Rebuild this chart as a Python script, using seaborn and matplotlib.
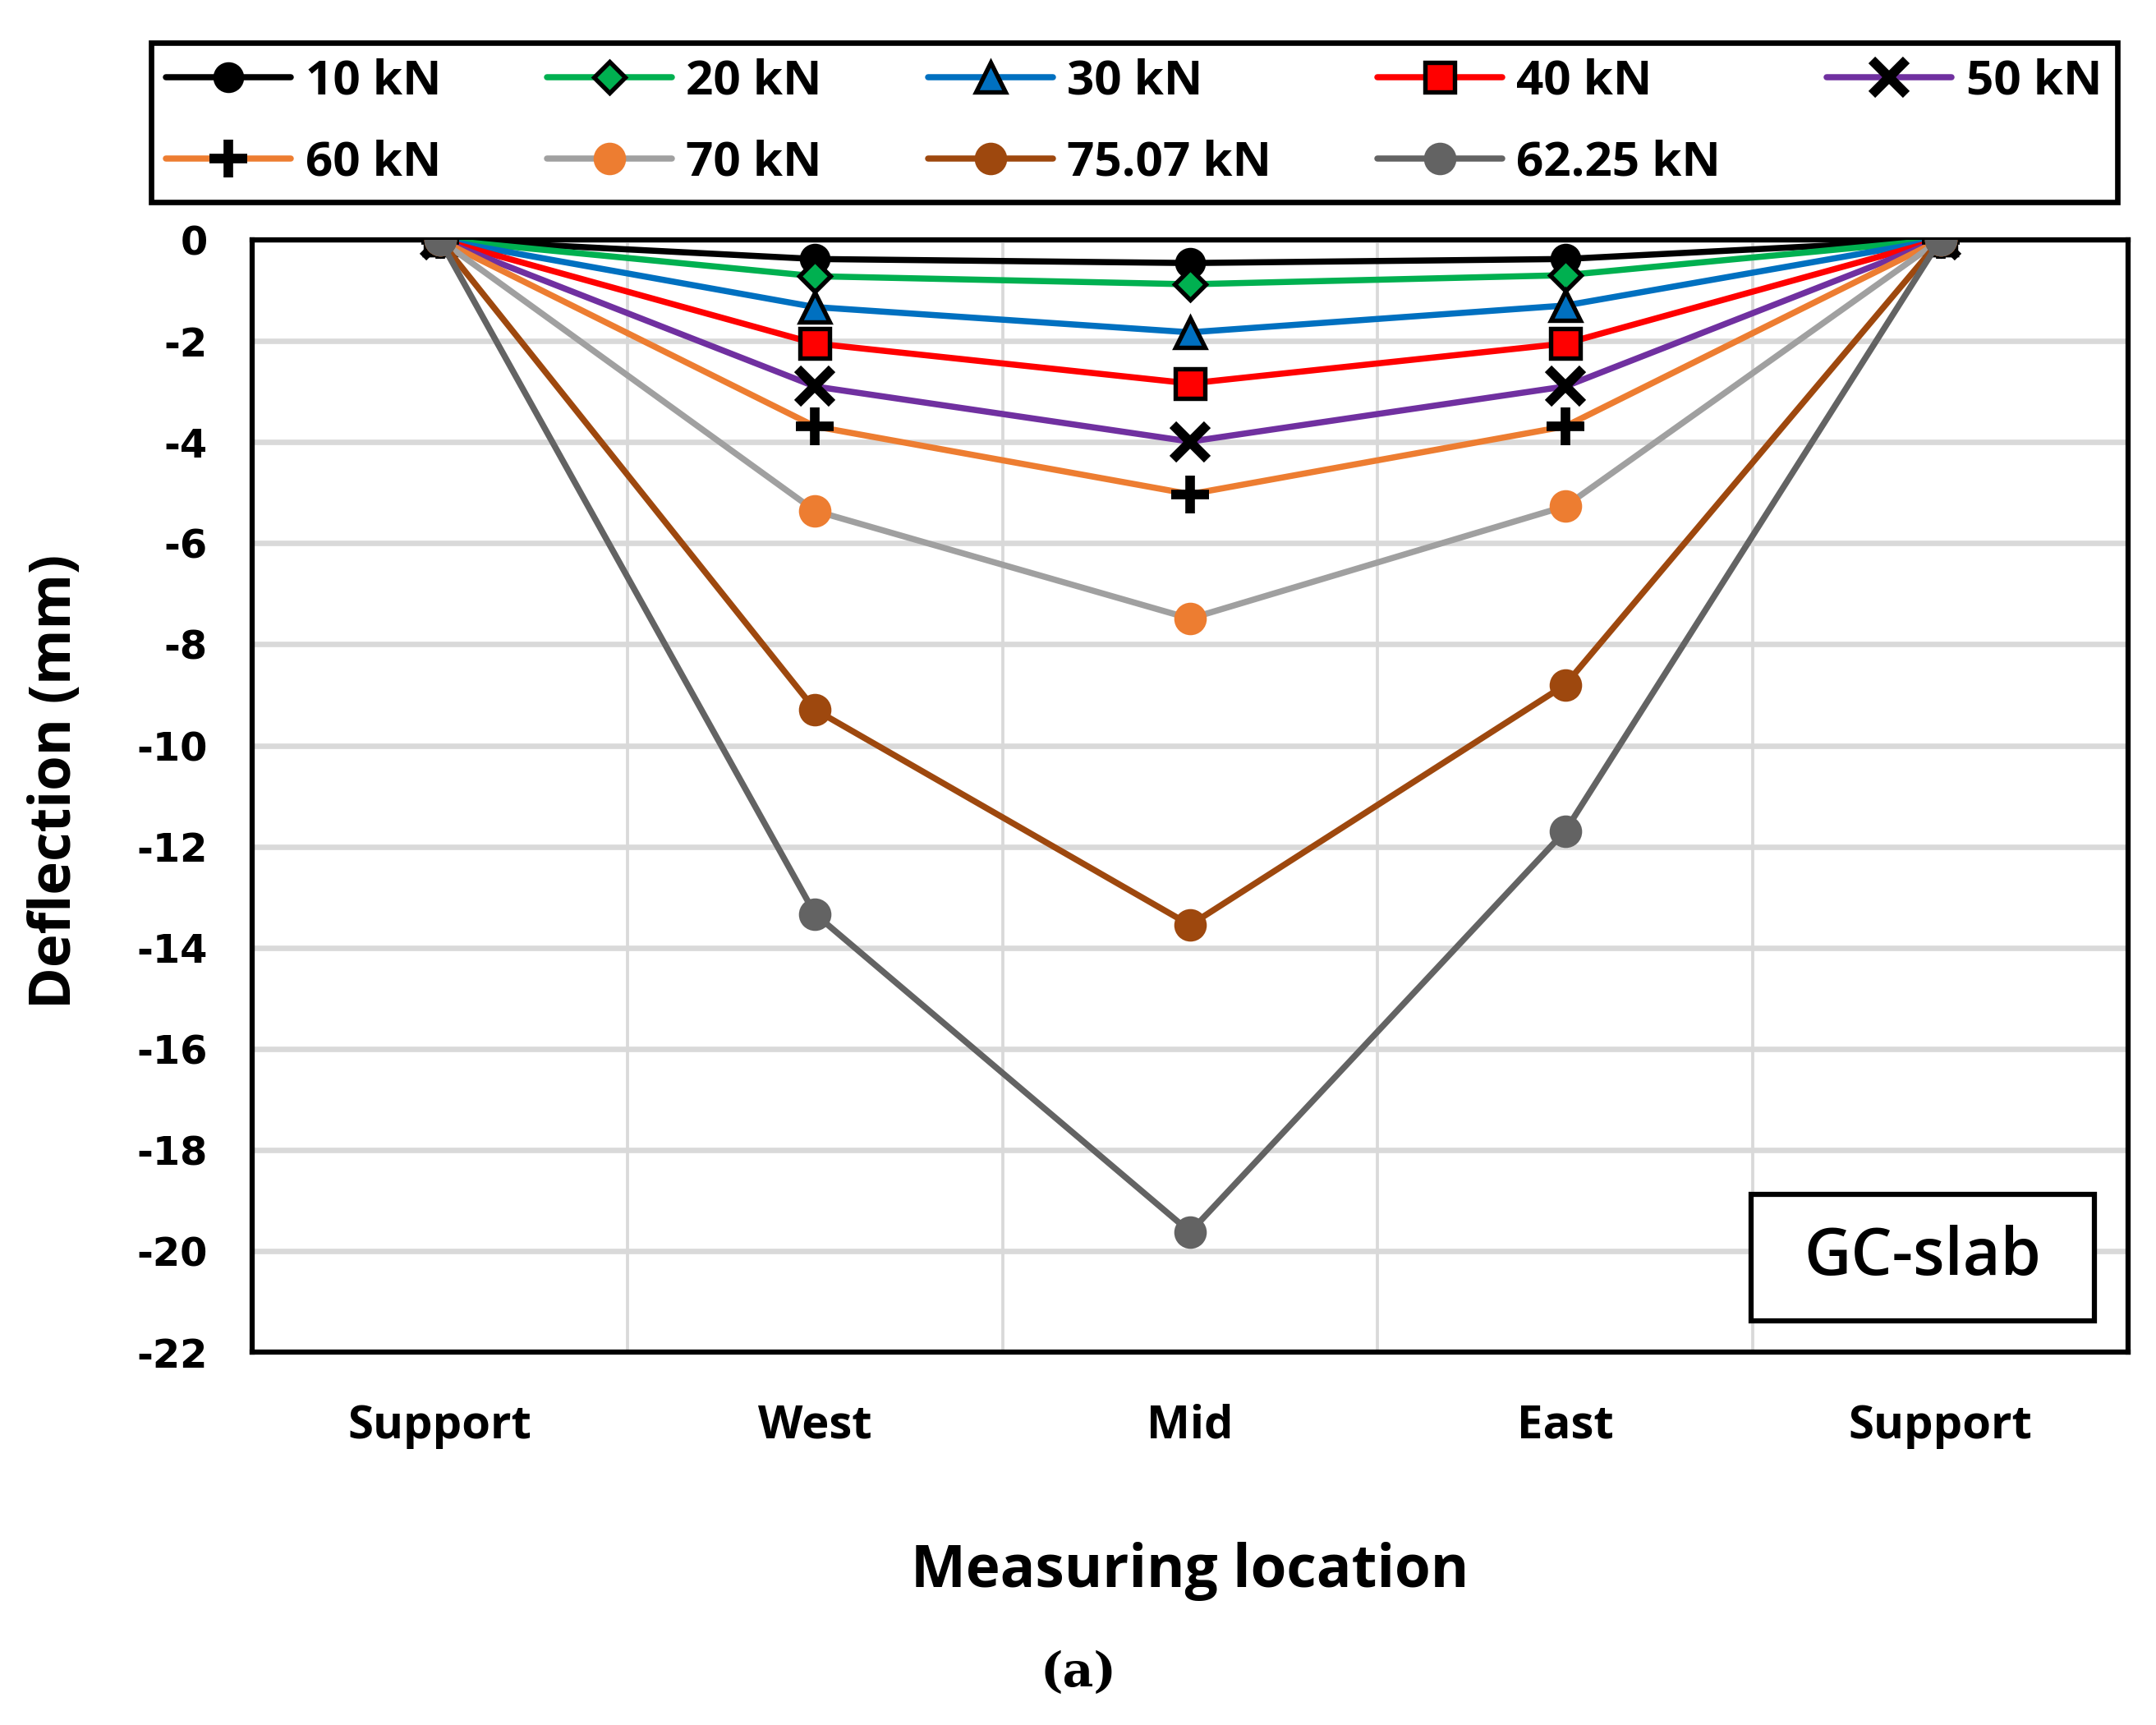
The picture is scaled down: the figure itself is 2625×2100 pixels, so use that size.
import numpy as np
import matplotlib
matplotlib.use("Agg")
import matplotlib.pyplot as plt
import matplotlib.patches as mpatches
import seaborn as sns

# ── Data (deflection in mm at each measuring location) ─────────────────────────
locations = ["Support", "West", "Mid", "East", "Support"]
load_labels = ["10 kN", "20 kN", "30 kN", "40 kN", "50 kN",
               "60 kN", "70 kN", "75.07 kN", "62.25 kN"]

defl_10  = [0, -0.38, -0.46, -0.38, 0]
defl_20  = [0, -0.72, -0.88, -0.70, 0]
defl_30  = [0, -1.33, -1.83, -1.30, 0]
defl_40  = [0, -2.05, -2.84, -2.05, 0]
defl_50  = [0, -2.90, -3.99, -2.90, 0]
defl_60  = [0, -3.69, -5.03, -3.69, 0]
defl_70  = [0, -5.36, -7.49, -5.27, 0]
defl_75  = [0, -9.29, -13.55, -8.80, 0]
defl_62  = [0, -13.33, -19.62, -11.69, 0]
series = [defl_10, defl_20, defl_30, defl_40, defl_50,
          defl_60, defl_70, defl_75, defl_62]

# ── Styles (Excel-like palette) ────────────────────────────────────────────────
line_colors = ["#000000", "#00B050", "#0070C0", "#FF0000", "#7030A0",
               "#ED7D31", "#A0A0A0", "#9E480E", "#636363"]
markers     = ["o", "D", "^", "s", "x", "+", "o", "o", "o"]
face_colors = ["#000000", "#00B050", "#0070C0", "#FF0000", "none",
               "none", "#ED7D31", "#9E480E", "#636363"]
edge_colors = ["#000000", "#000000", "#000000", "#000000", "#000000",
               "#000000", "#ED7D31", "#9E480E", "#636363"]
msizes      = [8, 6.5, 8.5, 8.5, 10, 11, 9, 9, 9]
mews        = [1.0, 1.3, 1.3, 1.3, 2.8, 2.8, 0.5, 0.5, 0.5]

sns.set_theme(style="white")
plt.rcParams["font.family"] = ["Open Sans", "DejaVu Sans"]
plt.rcParams["axes.unicode_minus"] = False
plt.rcParams["text.color"] = "black"
plt.rcParams["xtick.color"] = "black"
plt.rcParams["ytick.color"] = "black"

fig = plt.figure(figsize=(8.75, 7), dpi=300)
ax = fig.add_axes([0.117, 0.216, 0.870, 0.645])

positions = np.arange(len(locations))
for vals, lab, lc, mk, fc, ec, ms, mw in zip(series, load_labels, line_colors, markers,
                                             face_colors, edge_colors, msizes, mews):
    sns.lineplot(x=positions, y=vals, ax=ax, color=lc, lw=1.8, label=lab,
                 marker=mk, markersize=ms, markerfacecolor=fc,
                 markeredgecolor=ec, markeredgewidth=mw, zorder=3)

if ax.get_legend() is not None:
    ax.get_legend().remove()

# ── Axes ───────────────────────────────────────────────────────────────────────
ax.set_xlim(-0.5, len(locations) - 0.5)
ax.set_ylim(-22, 0)
ax.set_yticks(np.arange(-22, 1, 2))
ax.set_yticklabels([str(v) for v in np.arange(-22, 1, 2)],
                   fontfamily="DejaVu Sans", fontweight="bold", fontsize=11.5)
ax.set_xticks(positions)
ax.set_xticklabels(locations, fontweight="bold", fontsize=13.5)
ax.set_xticks(positions[:-1] + 0.5, minor=True)
ax.tick_params(axis="x", which="both", length=0, pad=15, colors="black")
ax.tick_params(axis="y", length=0, pad=13, colors="black")

ax.yaxis.grid(True, color="#D9D9D9", lw=1.6, zorder=0)
ax.xaxis.grid(True, which="minor", color="#D9D9D9", lw=0.9, zorder=0)
ax.xaxis.grid(False, which="major")
ax.set_axisbelow(True)
for spine in ax.spines.values():
    spine.set_edgecolor("black")
    spine.set_linewidth(1.5)

ax.set_xlabel("")
ax.set_ylabel("")
fig.text(0.026, 0.547, "Deflection (mm)", rotation=90, ha="center", va="center",
         fontsize=16.5, fontweight="bold")
fig.text(0.552, 0.089, "Measuring location", ha="center", va="center",
         fontsize=17, fontweight="bold")
fig.text(0.5, 0.030, "(a)", ha="center", va="center", fontsize=14,
         fontfamily="DejaVu Serif", fontweight="bold")

# GC-slab label box
ax.add_patch(mpatches.Rectangle((0.799, 0.028), 0.183, 0.114, transform=ax.transAxes,
                                fc="white", ec="black", lw=1.5, zorder=5))
ax.text(0.8905, 0.085, "GC-slab", transform=ax.transAxes, ha="center", va="center",
        fontsize=19, fontweight="semibold", zorder=6)

# ── Legend (row-major order, 5 columns) ────────────────────────────────────────
handles, labels = ax.get_legend_handles_labels()
order = [0, 5, 1, 6, 2, 7, 3, 8, 4]
leg = fig.legend([handles[i] for i in order], [labels[i] for i in order],
                 loc="lower left", bbox_to_anchor=(0.07, 0.883, 0.912, 0.096),
                 mode="expand", ncol=5, fancybox=False, frameon=True, framealpha=1,
                 borderaxespad=0.0, handlelength=2.6, handletextpad=0.3,
                 columnspacing=1.0, labelspacing=0.7, borderpad=0.32,
                 prop=dict(family=["Open Sans", "DejaVu Sans"], weight="bold", size=14))
leg.get_frame().set_edgecolor("black")
leg.get_frame().set_linewidth(1.6)

fig.savefig("out.png", dpi=300, facecolor="white")
plt.close(fig)
